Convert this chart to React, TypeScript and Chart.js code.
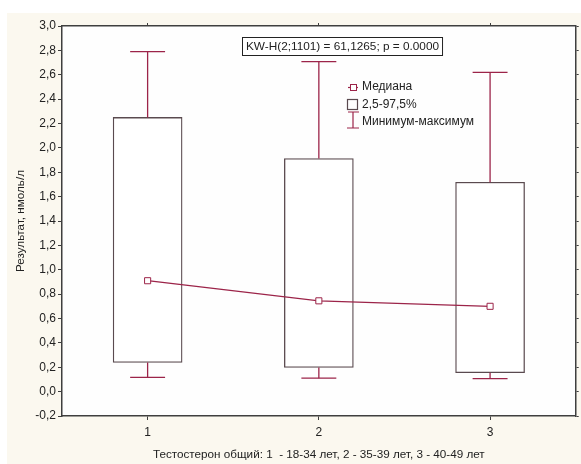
import React, { useEffect, useRef } from 'react';
import { Chart, registerables } from 'chart.js';

Chart.register(...registerables);

// ---- data ----
const groups = [1, 2, 3];
const xTickLabels = ['1', '2', '3'];
const medians = [0.91, 0.745, 0.70];
const boxLow = [0.24, 0.198, 0.155];
const boxHigh = [2.25, 1.912, 1.718];
const minimums = [0.117, 0.11, 0.106];
const maximums = [2.79, 2.708, 2.62];
const yTickValues = [-0.2, 0, 0.2, 0.4, 0.6, 0.8, 1.0, 1.2, 1.4, 1.6, 1.8, 2.0, 2.2, 2.4, 2.6, 2.8, 3.0];
const legendLabels = ['Медиана', '2,5-97,5%', 'Минимум-максимум'];
const statText = 'KW-H(2;1101) = 61,1265; p = 0.0000';
const xTitle = 'Тестостерон общий: 1  - 18-34 лет, 2 - 35-39 лет, 3 - 40-49 лет';
const yTitle = 'Результат, нмоль/л';

// ---- styles ----
const FONT = '"Liberation Sans", Arial, sans-serif';
const CRIMSON = '#9c2449';
const BOXCOL = '#5a4a4f';
const FRAME = '#3f3f3f';
const TEXT = '#222222';
const CREAM = '#fbf8ef';
const CAP_HALF = 0.102;

const whiskerData: any[] = [];
groups.forEach((g, i) => {
  whiskerData.push({ x: g, y: boxHigh[i] }, { x: g, y: maximums[i] }, { x: g, y: null });
  whiskerData.push({ x: g, y: boxLow[i] }, { x: g, y: minimums[i] }, { x: g, y: null });
});
const capData: any[] = [];
groups.forEach((g, i) => {
  capData.push({ x: g - CAP_HALF, y: maximums[i] }, { x: g + CAP_HALF, y: maximums[i] }, { x: g, y: null });
  capData.push({ x: g - CAP_HALF, y: minimums[i] }, { x: g + CAP_HALF, y: minimums[i] }, { x: g, y: null });
});

const bgPlugin = {
  id: 'bgPlugin',
  beforeDraw(chart: any) {
    const { ctx, width, height, chartArea } = chart;
    ctx.save();
    ctx.fillStyle = '#ffffff';
    ctx.fillRect(0, 0, width, height);
    ctx.fillStyle = CREAM;
    ctx.fillRect(7, 13, width - 7, height - 13);
    ctx.fillStyle = '#fefefe';
    ctx.fillRect(chartArea.left, chartArea.top, chartArea.right - chartArea.left, chartArea.bottom - chartArea.top);
    ctx.restore();
  },
};

const annotPlugin = {
  id: 'annotPlugin',
  afterDraw(chart: any) {
    const { ctx, chartArea } = chart;
    const L = chartArea.left;
    const T = chartArea.top;
    ctx.save();
    ctx.font = `11.8px ${FONT}`;
    ctx.fillStyle = TEXT;
    ctx.textBaseline = 'middle';
    ctx.textAlign = 'left';
    // stat box
    const tw = ctx.measureText(statText).width;
    const bx = L + 180.5;
    const by = T + 11.5;
    ctx.fillStyle = '#ffffff';
    ctx.fillRect(bx, by, tw + 7, 18);
    ctx.strokeStyle = '#222';
    ctx.lineWidth = 1;
    ctx.strokeRect(bx, by, tw + 7, 18);
    ctx.fillStyle = TEXT;
    ctx.fillText(statText, bx + 3.5, by + 9.5);

    // legend
    ctx.font = `12px ${FONT}`;
    const lx = L + 285;
    const ys = [T + 61, T + 79, T + 96];
    // median symbol
    ctx.strokeStyle = CRIMSON;
    ctx.lineWidth = 1.2;
    ctx.beginPath();
    ctx.moveTo(lx + 1, ys[0] + 0.5);
    ctx.lineTo(lx + 11, ys[0] + 0.5);
    ctx.stroke();
    ctx.fillStyle = '#fff';
    ctx.fillRect(lx + 3.5, ys[0] - 2.5, 6, 6);
    ctx.lineWidth = 1;
    ctx.strokeRect(lx + 3.5, ys[0] - 2.5, 6, 6);
    // box symbol
    ctx.strokeStyle = BOXCOL;
    ctx.lineWidth = 1.2;
    ctx.strokeRect(lx + 0.5, ys[1] - 5.5, 10, 10);
    // whisker symbol
    ctx.strokeStyle = CRIMSON;
    ctx.lineWidth = 1.2;
    ctx.beginPath();
    ctx.moveTo(lx + 6, ys[2] - 10);
    ctx.lineTo(lx + 6, ys[2] + 6);
    ctx.moveTo(lx + 1, ys[2] - 10);
    ctx.lineTo(lx + 12, ys[2] - 10);
    ctx.moveTo(lx + 0, ys[2] + 6);
    ctx.lineTo(lx + 12, ys[2] + 6);
    ctx.stroke();
    ctx.fillStyle = TEXT;
    legendLabels.forEach((t, i) => ctx.fillText(t, lx + 15, ys[i]));
    ctx.restore();
  },
};

export default function App() {
  const ref = useRef<HTMLCanvasElement | null>(null);
  useEffect(() => {
    document.body.style.margin = '0';
    const canvas = ref.current;
    if (!canvas) return;
    const fixTicks = (vals: number[]) => (s: any) => {
      s.ticks = vals.map((v) => ({ value: v }));
    };
    const chart = new Chart(canvas, {
      data: {
        datasets: [
          {
            type: 'line',
            label: 'median',
            data: groups.map((g, i) => ({ x: g, y: medians[i] })),
            borderColor: CRIMSON,
            borderWidth: 1.3,
            pointStyle: 'rect',
            pointRadius: 4.3,
            pointBorderWidth: 1,
            pointBorderColor: CRIMSON,
            pointBackgroundColor: '#ffffff',
            xAxisID: 'x',
            yAxisID: 'y',
            order: 0,
          },
          {
            type: 'line',
            label: 'whiskers',
            data: whiskerData,
            borderColor: CRIMSON,
            borderWidth: 1.3,
            pointRadius: 0,
            spanGaps: false,
            xAxisID: 'x',
            yAxisID: 'y',
            order: 1,
          },
          {
            type: 'line',
            label: 'caps',
            data: capData,
            borderColor: CRIMSON,
            borderWidth: 1.3,
            pointRadius: 0,
            spanGaps: false,
            xAxisID: 'x',
            yAxisID: 'y',
            order: 1,
          },
          {
            type: 'bar',
            label: 'box',
            data: groups.map((g, i) => ({ x: g, y: [boxLow[i], boxHigh[i]] })),
            backgroundColor: '#ffffff',
            borderColor: BOXCOL,
            borderWidth: 1.3,
            borderSkipped: false,
            barThickness: 69,
            xAxisID: 'x',
            yAxisID: 'y',
            order: 2,
          },
        ] as any,
      },
      options: {
        responsive: false,
        animation: false,
        events: [],
        layout: { padding: 0 },
        plugins: { legend: { display: false }, tooltip: { enabled: false } },
        scales: {
          x: {
            type: 'linear',
            position: 'bottom',
            offset: false,
            min: 0.5,
            max: 3.5,
            afterBuildTicks: fixTicks(groups),
            afterFit: (s: any) => { s.height = 48; },
            ticks: {
              color: TEXT,
              font: { family: FONT, size: 12 },
              padding: 5,
              maxRotation: 0,
              callback: (v: any) => xTickLabels[groups.indexOf(Number(v))] ?? '',
            },
            grid: { drawOnChartArea: false, tickLength: 4, color: FRAME, offset: false },
            border: { display: true, color: FRAME, width: 1.5 },
            title: {
              display: true,
              text: xTitle,
              color: TEXT,
              font: { family: FONT, size: 11.7 },
              padding: { top: 0, bottom: 2 },
            },
          },
          y: {
            type: 'linear',
            position: 'left',
            min: -0.2,
            max: 3.0,
            afterBuildTicks: fixTicks(yTickValues),
            afterFit: (s: any) => { s.width = 62; },
            ticks: {
              color: TEXT,
              font: { family: FONT, size: 12 },
              padding: 2,
              callback: (v: any) => Number(v).toFixed(1).replace('.', ','),
            },
            grid: { drawOnChartArea: false, tickLength: 4, color: FRAME },
            border: { display: true, color: FRAME, width: 1.5 },
            title: {
              display: true,
              text: yTitle,
              color: TEXT,
              font: { family: FONT, size: 11.7 },
              padding: { top: 14, bottom: 0 },
            },
          },
          x2: {
            type: 'linear',
            position: 'top',
            offset: false,
            min: 0.5,
            max: 3.5,
            afterBuildTicks: fixTicks(groups),
            afterFit: (s: any) => { s.height = 26; },
            ticks: { display: false },
            grid: { drawOnChartArea: false, tickLength: 3, color: FRAME },
            border: { display: true, color: FRAME, width: 1.5 },
          },
          y2: {
            type: 'linear',
            position: 'right',
            min: -0.2,
            max: 3.0,
            afterBuildTicks: fixTicks(yTickValues),
            afterFit: (s: any) => { s.width = 3; },
            ticks: { display: false },
            grid: { drawOnChartArea: false, tickLength: 3, color: FRAME },
            border: { display: true, color: FRAME, width: 1.5 },
          },
        },
      } as any,
      plugins: [bgPlugin, annotPlugin],
    });
    return () => chart.destroy();
  }, []);
  return (
    <div style={{ width: 581, height: 464 }}>
      <canvas ref={ref} width={581} height={464} style={{ display: 'block' }} />
    </div>
  );
}
